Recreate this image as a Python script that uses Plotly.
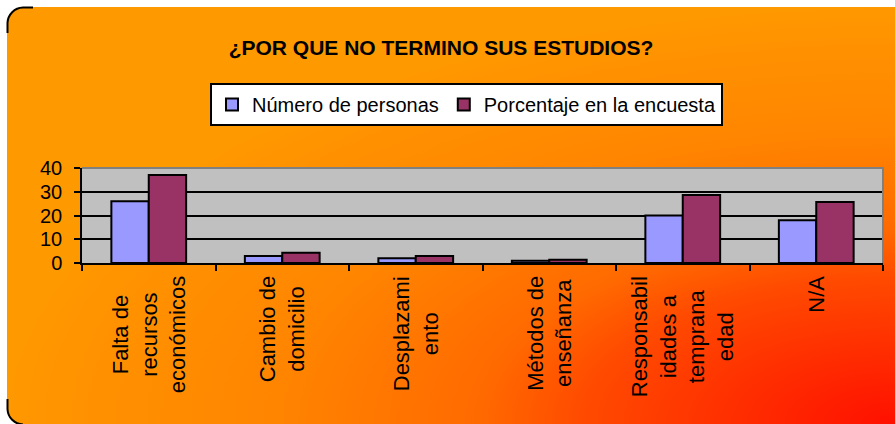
import base64
import plotly.graph_objects as go

# ---- data ----
categories = [
    "Falta de recursos económicos",
    "Cambio de domicilio",
    "Desplazamiento",
    "Métodos de enseñanza",
    "Responsabilidades a temprana edad",
    "N/A",
]
category_labels = [
    "Falta de<br>recursos<br>económicos",
    "Cambio de<br>domicilio",
    "Desplazami<br>ento",
    "Métodos de<br>enseñanza",
    "Responsabil<br>idades a<br>temprana<br>edad",
    "N/A",
]
personas = [26, 3, 2, 1, 20, 18]
porcentaje = [37.1, 4.3, 2.9, 1.4, 28.6, 25.7]
y_ticks = [0, 10, 20, 30, 40]
series_names = ["Número de personas", "Porcentaje en la encuesta"]
title_text = "¿POR QUE NO TERMINO SUS ESTUDIOS?"

# ---- geometry ----
W, H = 895, 424
ML, MR, MT, MB = 82, 12, 168, 161
PW, PH = W - ML - MR, H - MT - MB
FONT = "Liberation Sans, Arial, sans-serif"

# background (rounded frame with corner gradient)
svg = f"""<svg xmlns='http://www.w3.org/2000/svg' width='{W}' height='{H}' viewBox='0 0 {W} {H}'>
<defs><radialGradient id='g' gradientUnits='userSpaceOnUse' cx='0' cy='0' r='1'
 gradientTransform='matrix(890 0 0 417 895 424)'>
<stop offset='0' stop-color='#FF1000'/>
<stop offset='0.35' stop-color='#FF4A00'/>
<stop offset='0.47' stop-color='#FF6A00'/>
<stop offset='0.7' stop-color='#FF8500'/>
<stop offset='0.95' stop-color='#FF9400'/>
<stop offset='1' stop-color='#FF9900'/>
</radialGradient></defs>
<rect x='0' y='0' width='{W}' height='{H}' fill='white'/>
<rect x='7' y='7' width='940' height='418' rx='16' ry='16' fill='url(#g)'/>
<path d='M7.5,33 V23 A16,16 0 0 1 23,7.5 H33' fill='none' stroke='black' stroke-width='2'/>
<path d='M7.5,399 V409 A16,16 0 0 0 23,424.5' fill='none' stroke='black' stroke-width='2'/>
</svg>"""
src = "data:image/svg+xml;base64," + base64.b64encode(svg.encode("utf-8")).decode()

fig = go.Figure()
fig.add_trace(go.Bar(
    x=categories, y=personas, name=series_names[0],
    marker=dict(color="#9999FF", line=dict(color="black", width=2)),
))
fig.add_trace(go.Bar(
    x=categories, y=porcentaje, name=series_names[1],
    marker=dict(color="#993366", line=dict(color="black", width=2)),
))

annotations = []
for cat, lab in zip(categories, category_labels):
    annotations.append(dict(
        x=cat, xref="x", y=0, yref="paper", yanchor="top", xanchor="center",
        text=lab, textangle=-90, align="center", showarrow=False, yshift=-11,
        font=dict(family=FONT, size=22, color="black"),
    ))

fig.update_layout(
    width=W, height=H,
    margin=dict(l=ML, r=MR, t=MT, b=MB, pad=0),
    paper_bgcolor="white",
    plot_bgcolor="rgba(0,0,0,0)",
    barmode="group", bargap=0.44, bargroupgap=0,
    font=dict(family=FONT, size=20, color="black"),
    title=dict(text=title_text, x=441 / W, xref="container", xanchor="center",
               y=1 - 48 / H, yref="container", yanchor="middle",
               font=dict(family=FONT, size=21, color="black", weight="bold")),
    showlegend=True,
    legend=dict(orientation="h", x=(210 - ML) / PW, xanchor="left",
                y=1 + (MT - 83) / PH, yanchor="top",
                bgcolor="white", bordercolor="black", borderwidth=2,
                font=dict(family=FONT, size=20, color="black"),
                itemwidth=30, traceorder="normal"),
    images=[dict(source=src, xref="paper", yref="paper",
                 x=-ML / PW, y=1 + MT / PH, sizex=W / PW, sizey=H / PH,
                 xanchor="left", yanchor="top", sizing="stretch", layer="below")],
    shapes=[
        dict(type="rect", xref="paper", yref="paper", x0=0, x1=1, y0=0, y1=1,
             fillcolor="#C0C0C0", line=dict(width=0), layer="below"),
        dict(type="path", xref="paper", yref="paper", path="M0,1 L1,1 L1,0",
             line=dict(color="#808080", width=2), layer="above"),
    ],
    annotations=annotations,
)
fig.update_xaxes(
    type="category", tickson="boundaries", ticks="outside", ticklen=6,
    tickwidth=1.5, tickcolor="black", showticklabels=False,
    showline=True, linecolor="black", linewidth=2, showgrid=False,
)
fig.update_yaxes(
    range=[0, 40], tickvals=y_ticks, ticks="outside", ticklen=6,
    tickwidth=1.5, tickcolor="black", ticklabelstandoff=8,
    showline=True, linecolor="black", linewidth=1.5,
    showgrid=True, gridcolor="black", gridwidth=1.5, zeroline=False,
    tickfont=dict(family=FONT, size=20, color="black"),
)
fig.write_html(
    "out.html",
    config={"displayModeBar": False},
    post_script="document.body.style.margin='0';document.body.style.overflow='hidden';",
)
